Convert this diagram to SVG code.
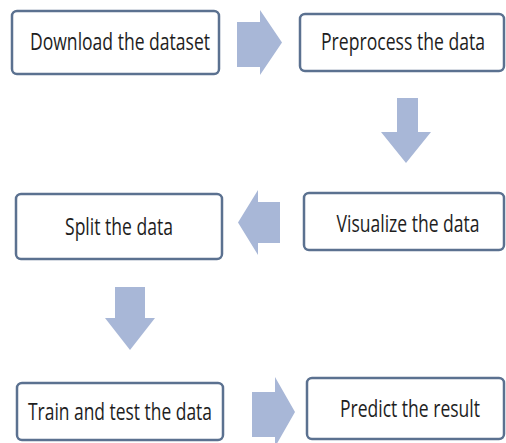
<svg xmlns="http://www.w3.org/2000/svg" width="506" height="443" viewBox="0 0 506 443">
<style>
.box{fill:#ffffff;stroke:#5b7190;stroke-width:2.5}
.lbl{font-family:"Open Sans","Noto Sans","Liberation Sans",sans-serif;font-size:20px;fill:#1e1e1e;text-anchor:middle}
.arr{fill:#a8b7d7}
</style>
<rect width="506" height="443" fill="#ffffff"/>
<g id="connectors">
<polygon class="arr" points="237,22 260,22 260,10 282,42.5 260,75 260,67 237,67"/>
<polygon class="arr" points="397,98 418,98 418,132 431,132 406,163 381,132 397,132"/>
<polygon class="arr" points="280,202 258,202 258,190 238,222.5 258,255 258,243 280,243"/>
<polygon class="arr" points="115,287 145,287 145,318 155,318 130,350 105,318 115,318"/>
<polygon class="arr" points="252,392 275,392 275,377 295,412 275,447 275,437 252,437"/>
</g>
<g id="download">
<rect class="box" x="12" y="11" width="207" height="63" rx="5"/>
<text class="lbl" transform="translate(120,50) scale(1,1.2)" x="0" y="0" textLength="180" lengthAdjust="spacingAndGlyphs">Download the dataset</text>
</g>
<g id="preprocess">
<rect class="box" x="300" y="14" width="204" height="57" rx="5"/>
<text class="lbl" transform="translate(403,50) scale(1,1.2)" x="0" y="0" textLength="164" lengthAdjust="spacingAndGlyphs">Preprocess the data</text>
</g>
<g id="split">
<rect class="box" x="16" y="194" width="206" height="65" rx="5"/>
<text class="lbl" transform="translate(119,235) scale(1,1.2)" x="0" y="0" textLength="108" lengthAdjust="spacingAndGlyphs">Split the data</text>
</g>
<g id="visualize">
<rect class="box" x="304" y="193" width="200" height="57" rx="5"/>
<text class="lbl" transform="translate(408,232) scale(1,1.2)" x="0" y="0" textLength="143" lengthAdjust="spacingAndGlyphs">Visualize the data</text>
</g>
<g id="train">
<rect class="box" x="17" y="383" width="206" height="57" rx="5"/>
<text class="lbl" transform="translate(120,420) scale(1,1.2)" x="0" y="0" textLength="184" lengthAdjust="spacingAndGlyphs">Train and test the data</text>
</g>
<g id="predict">
<rect class="box" x="307" y="378" width="197" height="61" rx="5"/>
<text class="lbl" transform="translate(410,417) scale(1,1.2)" x="0" y="0" textLength="140" lengthAdjust="spacingAndGlyphs">Predict the result</text>
</g>
</svg>
